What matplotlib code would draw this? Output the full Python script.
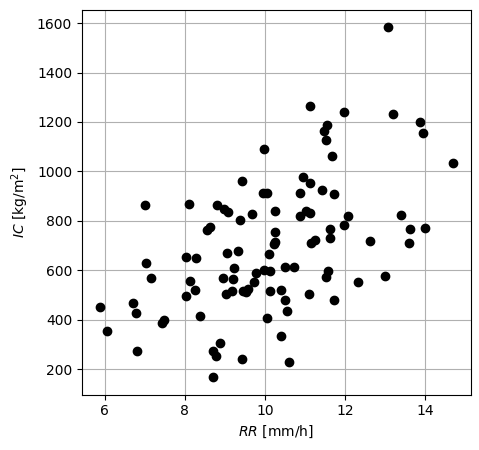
import matplotlib
matplotlib.use("Agg")
import matplotlib.pyplot as plt

# rain rate [mm/h] and IC [kg/m^2]
rr = [5.87, 6.06, 6.71, 6.79, 6.81, 7.01, 7.04, 7.16, 7.42, 7.48,
      8.03, 8.03, 8.11, 8.12, 8.28, 8.26, 8.38, 8.56, 8.62, 8.71,
      8.79, 8.71, 8.81, 8.89, 8.97, 9.08, 8.96, 9.02, 9.05, 9.21,
      9.23, 9.19, 9.33, 9.37, 9.42, 9.44, 9.45, 9.52, 9.58, 9.69,
      9.74, 9.77, 9.97, 9.99, 9.96, 10.05, 10.06, 10.10, 10.12, 10.14,
      10.22, 10.26, 10.25, 10.25, 10.41, 10.41, 10.51, 10.51, 10.56, 10.60,
      10.72, 10.87, 10.89, 10.95, 11.02, 11.12, 11.10, 11.12, 11.12, 11.16,
      11.25, 11.44, 11.48, 11.52, 11.55, 11.53, 11.58, 11.63, 11.64, 11.67,
      11.73, 11.74, 11.98, 11.99, 12.09, 12.33, 12.63, 13.00, 13.08, 13.21,
      13.40, 13.60, 13.63, 13.88, 13.96, 14.00, 14.71]
ic = [451, 352, 467, 425, 271, 862, 628, 567, 388, 400,
      652, 497, 870, 555, 648, 520, 415, 762, 776, 273,
      254, 167, 862, 304, 846, 834, 567, 503, 669, 564,
      607, 515, 677, 803, 240, 960, 515, 510, 522, 826,
      553, 587, 599, 1089, 912, 913, 405, 664, 515, 596,
      707, 715, 756, 838, 333, 521, 481, 611, 436, 227,
      611, 820, 912, 977, 840, 830, 502, 953, 1263, 710,
      722, 923, 1163, 1129, 1186, 572, 598, 729, 766, 1062,
      479, 908, 1239, 784, 819, 551, 717, 575, 1583, 1231,
      823, 710, 766, 1198, 1154, 769, 1032]

fig, ax = plt.subplots(figsize=(4.79, 4.5), dpi=100)
fig.subplots_adjust(left=0.171, right=0.983, bottom=0.123, top=0.978)
ax.scatter(rr, ic, color="black")
ax.set_xlabel("$RR$ [mm/h]")
ax.set_ylabel("$IC$ [kg/m$^2$]")
ax.grid(True)
ax.set_axisbelow(True)
fig.savefig("out.png", dpi=100)
